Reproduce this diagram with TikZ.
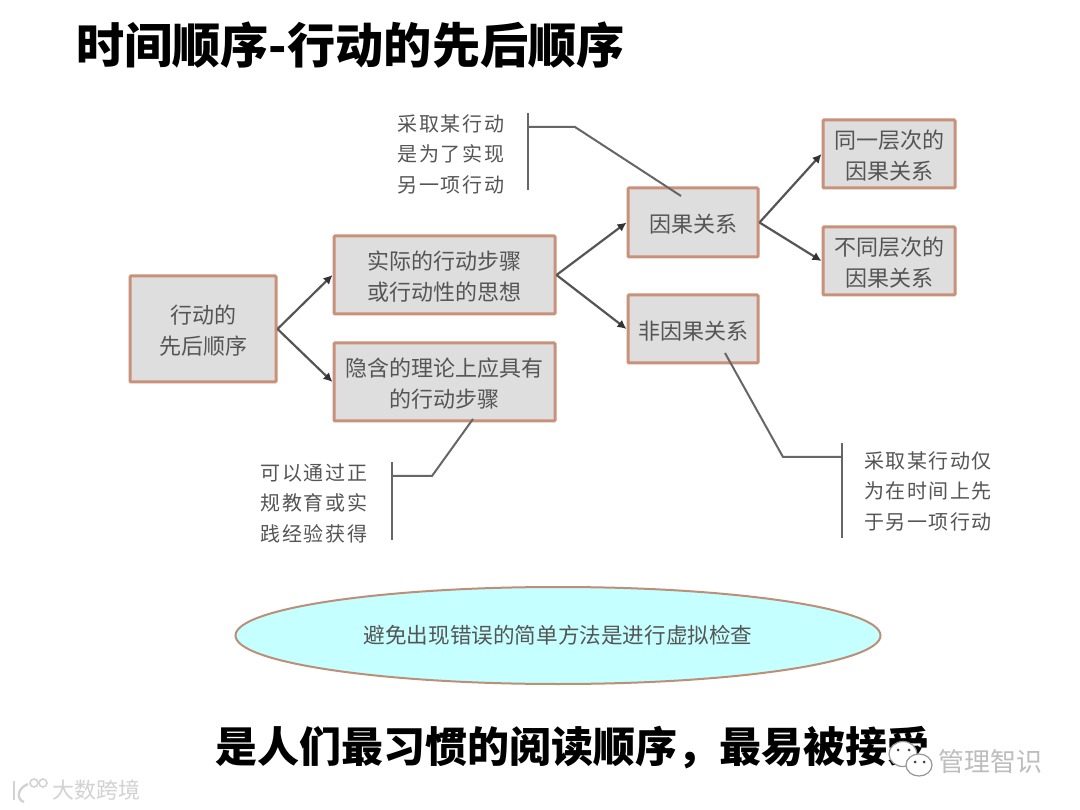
\documentclass[tikz,border=0pt]{standalone}
\usepackage{fontspec}
\setmainfont{Noto Sans CJK SC}
\newfontfamily\cjk{Noto Sans CJK SC}
\newfontfamily\cjkspaced{Noto Sans CJK SC}[LetterSpace=8]
\usetikzlibrary{arrows.meta,shapes.geometric}
\definecolor{boxedge}{HTML}{C9917A}
\definecolor{boxfill}{HTML}{DEDEDE}
\definecolor{inkgray}{HTML}{555555}
\definecolor{ellipsefill}{HTML}{C6FFFF}
\definecolor{ellipseedge}{HTML}{BC8F78}
\definecolor{markgray}{HTML}{BDBDBD}
\definecolor{marklight}{HTML}{D2D2D2}
\newcommand{\lowerfirst}{\rule{0pt}{22pt}}
\tikzset{
  stepbox/.style={draw=boxedge,line width=3pt,fill=boxfill,rounded corners=1pt,inner sep=0pt,align=center,text=inkgray,font=\fontsize{22}{31}\selectfont\cjk},
  arrowline/.style={draw=inkgray,line width=2.2pt,-{Latex[length=9pt,width=9pt,black!80]}},
  noteline/.style={draw=inkgray!90,line width=2pt},
  notetext/.style={inner sep=0pt,align=center,text=inkgray,font=\fontsize{20}{30.5}\selectfont\cjkspaced},
  headtext/.style={inner sep=0pt,anchor=west,text=black,font=\bfseries\cjk},
  markicon/.style={draw=markgray!80!black,fill=white,line width=1.2pt},
  markeye/.style={fill=black!75,circle,minimum size=3pt,inner sep=0pt},
  logoline/.style={draw=marklight,line width=2.4pt},
  marktext/.style={inner sep=0pt,text=markgray,font=\cjk}
}
\begin{document}
\begin{tikzpicture}[x=1pt,y=-1pt]
\useasboundingbox (0,0) rectangle (1080,810);
\fill[white] (0,0) rectangle (1080,810);
\node[headtext,font=\fontsize{48.2}{48}\selectfont\bfseries\cjk] (title) at (76,45) {时间顺序-行动的先后顺序};
\node[stepbox,minimum width=146pt,minimum height=106pt] (A) at (203,329) {\lowerfirst 行动的\\先后顺序};
\node[stepbox,minimum width=221pt,minimum height=78pt] (B) at (444.5,275) {\lowerfirst 实际的行动步骤\\或行动性的思想};
\node[stepbox,minimum width=221pt,minimum height=78pt] (C) at (444.5,382) {\lowerfirst 隐含的理论上应具有\\的行动步骤};
\node[stepbox,minimum width=130pt,minimum height=69pt] (D) at (693,222.5) {\lowerfirst 因果关系};
\node[stepbox,minimum width=130pt,minimum height=68pt] (E) at (693,329) {\lowerfirst 非因果关系};
\node[stepbox,minimum width=132pt,minimum height=68pt] (F) at (889,154) {\lowerfirst 同一层次的\\因果关系};
\node[stepbox,minimum width=132pt,minimum height=68pt] (G) at (889,261) {\lowerfirst 不同层次的\\因果关系};
\draw[arrowline] (A.east) -- (B.west);
\draw[arrowline] (A.east) -- (C.west);
\draw[arrowline] (B.east) -- (D.west);
\draw[arrowline] (B.east) -- (E.west);
\draw[arrowline] (D.east) -- (F.west);
\draw[arrowline] (D.east) -- (G.west);
% note 1
\node[notetext] (n1) at (451,154) {采取某行动\\是为了实现\\另一项行动};
\coordinate (n1top) at (528,113);
\coordinate (n1bot) at (528,190);
\coordinate (n1tee) at (528,127);
\coordinate (n1knee) at (575,127);
\coordinate (n1end) at (681,196);
\draw[noteline] (n1top) -- (n1bot);
\draw[noteline] (n1tee) -- (n1knee) -- (n1end);
% note 2
\node[notetext] (n2) at (314,503) {可以通过正\\规教育或实\\践经验获得};
\coordinate (n2top) at (392,462);
\coordinate (n2bot) at (392,540);
\coordinate (n2tee) at (392,476);
\coordinate (n2knee) at (432,476);
\coordinate (n2end) at (473,419);
\draw[noteline] (n2top) -- (n2bot);
\draw[noteline] (n2tee) -- (n2knee) -- (n2end);
% note 3
\node[notetext] (n3) at (928,491) {采取某行动仅\\为在时间上先\\于另一项行动};
\coordinate (n3top) at (842,443);
\coordinate (n3bot) at (842,538);
\coordinate (n3tee) at (842,457);
\coordinate (n3knee) at (783,457);
\coordinate (n3end) at (725,353);
\draw[noteline] (n3top) -- (n3bot);
\draw[noteline] (n3tee) -- (n3knee) -- (n3end);
% ellipse
\node[ellipse,draw=ellipseedge,line width=2pt,fill=ellipsefill,minimum width=645pt,minimum height=97pt,inner sep=0pt,text=inkgray,font=\fontsize{21.6}{26}\selectfont\cjk] (check) at (558,635.5) {避免出现错误的简单方法是进行虚拟检查};
% bottom line
\node[headtext,font=\fontsize{42}{42}\selectfont\bfseries\cjk] (foot) at (215,748) {是人们最习惯的阅读顺序，最易被接受};
% watermarks
\node[markicon,ellipse,minimum width=28pt,minimum height=25pt,inner sep=0pt] (wa) at (903,754) {};
\node[markeye] (wae1) at (898,750) {};
\node[markeye] (wae2) at (909,750) {};
\node[markicon,ellipse,minimum width=26pt,minimum height=22pt,inner sep=0pt] (wb) at (919,765) {};
\node[markeye] (wbe1) at (915,762) {};
\node[markeye] (wbe2) at (924,762) {};
\node[marktext,anchor=west,font=\fontsize{26}{26}\selectfont\cjk] (wm1) at (938,762) {管理智识};
\node[marktext,anchor=west,text=marklight,font=\fontsize{22}{22}\selectfont\cjk] (wm2) at (52,790) {大数跨境};
\coordinate (lg1) at (14,781);
\coordinate (lg2) at (14,800);
\coordinate (lg3) at (28,784);
\coordinate (lg4) at (24,802);
\draw[logoline] (lg1) -- (lg2);
\draw[logoline] (lg3) .. controls (16,789) and (17,800) .. (lg4);
\node[draw=marklight,line width=1.6pt,circle,minimum size=8pt,inner sep=0pt] (lgc1) at (34,783) {};
\node[draw=marklight,line width=1.6pt,circle,minimum size=8pt,inner sep=0pt] (lgc2) at (43,783) {};
\end{tikzpicture}
\end{document}
